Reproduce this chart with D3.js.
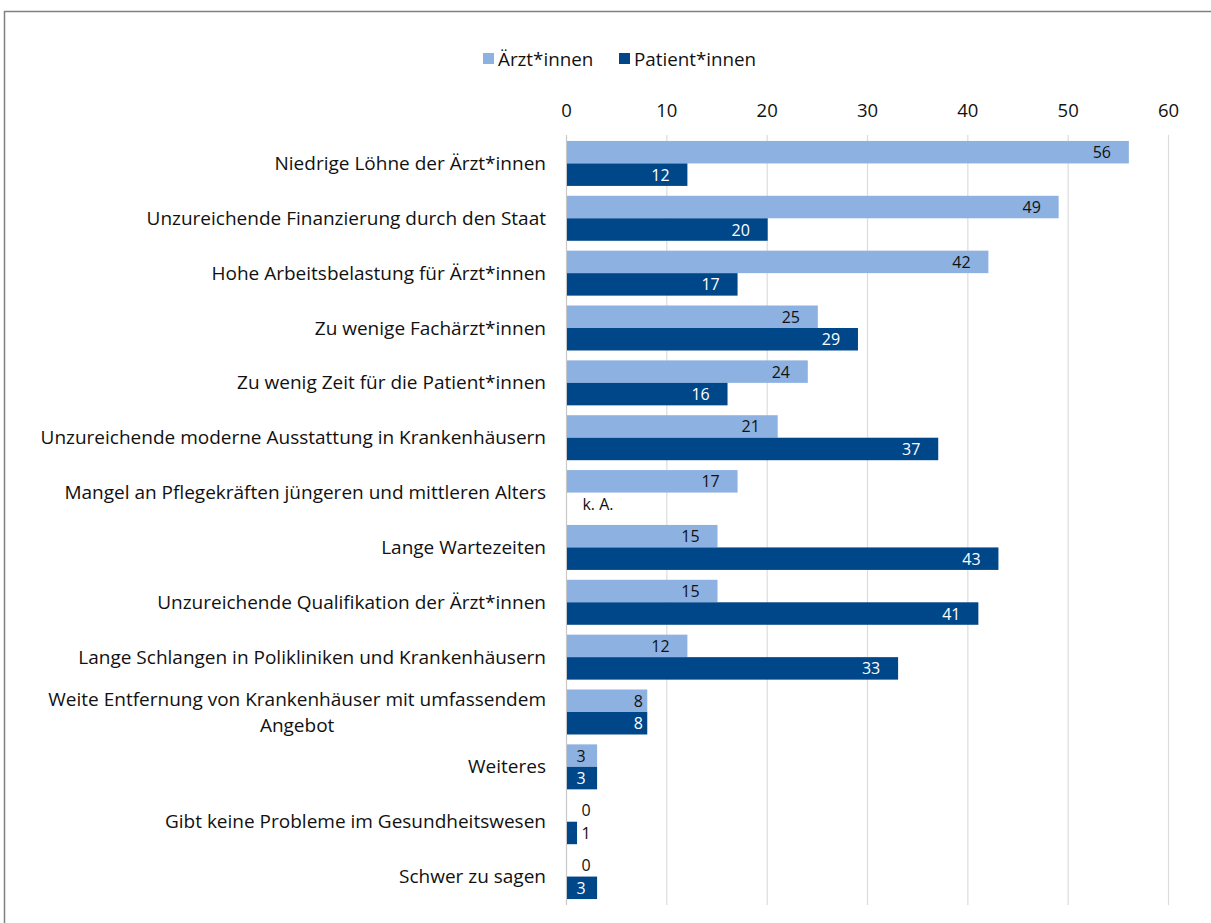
<!DOCTYPE html>
<html>
<head>
<meta charset="utf-8">
<script src="https://cdn.jsdelivr.net/npm/d3@7"></script>
<style>
  body { margin: 0; background: #fff; }
  svg text { font-family: "Open Sans", "Noto Sans", sans-serif; fill: #111; }
</style>
</head>
<body>
<svg id="chart" width="1211" height="923"></svg>
<script>
// data
var categories = [
    "Niedrige Löhne der Ärzt*innen",
    "Unzureichende Finanzierung durch den Staat",
    "Hohe Arbeitsbelastung für Ärzt*innen",
    "Zu wenige Fachärzt*innen",
    "Zu wenig Zeit für die Patient*innen",
    "Unzureichende moderne Ausstattung in Krankenhäusern",
    "Mangel an Pflegekräften jüngeren und mittleren Alters",
    "Lange Wartezeiten",
    "Unzureichende Qualifikation der Ärzt*innen",
    "Lange Schlangen in Polikliniken und Krankenhäusern",
    "Weite Entfernung von Krankenhäuser mit umfassendem|Angebot",
    "Weiteres",
    "Gibt keine Probleme im Gesundheitswesen",
    "Schwer zu sagen"
];
var aerzte    = [56, 49, 42, 25, 24, 21, 17, 15, 15, 12, 8, 3, 0, 0];
var patienten = [12, 20, 17, 29, 16, 37, null, 43, 41, 33, 8, 3, 1, 3];
var seriesNames = ["Ärzt*innen", "Patient*innen"];
var seriesColors = ["#8db1e1", "#00478a"];
var xTicks = [0, 10, 20, 30, 40, 50, 60];

window.addEventListener( "load", makeChart );
function makeChart() {
    var svg = d3.select( "#chart" );

    // frame
    svg.append( "path" ).attr( "d", "M4.5,923 V11.5 H1211" )
        .attr( "stroke", "#808080" ).attr( "stroke-width", 1.5 ).attr( "fill", "none" );

    var x = d3.scaleLinear().domain( [0, 60] ).range( [566, 1168] );
    var y = d3.scaleBand().domain( categories ).range( [136, 904] )
        .paddingInner( 0.18 ).paddingOuter( 0.09 );
    var ys = d3.scaleBand().domain( [0, 1] ).range( [0, y.bandwidth()] );

    // grid
    svg.append( "g" ).selectAll( "line" ).data( xTicks ).enter()
        .append( "line" )
        .attr( "x1", d=>x(d)+0.5 ).attr( "x2", d=>x(d)+0.5 )
        .attr( "y1", 135 ).attr( "y2", 905 )
        .attr( "stroke", d=>d==0 ? "#c8c8c8" : "#dcdcdc" ).attr( "stroke-width", 1.2 );

    // top axis labels
    var ax = svg.append( "g" ).attr( "transform", "translate(0,117)" )
        .call( d3.axisTop( x ).tickValues( xTicks ).tickSize( 0 ).tickPadding( 0 ) );
    ax.select( ".domain" ).remove();
    ax.selectAll( "text" ).attr( "font-size", 18.5 ).attr( "font-family", null );

    // legend
    var lg = svg.append( "g" );
    var legX = [483, 619];
    seriesNames.forEach( function(n, i) {
        lg.append( "rect" ).attr( "x", legX[i] ).attr( "y", 53 )
            .attr( "width", 11 ).attr( "height", 11 ).attr( "fill", seriesColors[i] );
        lg.append( "text" ).attr( "x", legX[i]+15 ).attr( "y", 65.5 )
            .attr( "font-size", 18.8 ).text( n );
    } );

    // category labels
    var cl = svg.append( "g" ).selectAll( "text" ).data( categories ).enter()
        .append( "text" )
        .attr( "text-anchor", "middle" ).attr( "font-size", 19 )
        .attr( "transform", d=>"translate(0," + (y(d)+y.bandwidth()/2) + ")" );
    cl.each( function(d) {
        var lines = d.split( "|" );
        var t = d3.select( this );
        var tmp = t.append( "tspan" ).text( lines[0] );
        var w = tmp.node().getComputedTextLength();
        tmp.remove();
        var right = 546;
        lines.forEach( function(s, i) {
            t.append( "tspan" )
                .attr( "x", lines.length > 1 ? right - w/2 : right )
                .attr( "text-anchor", lines.length > 1 ? "middle" : "end" )
                .attr( "y", (i - (lines.length-1)/2) * 26 + 6.5 )
                .text( s );
        } );
    } );

    // bars
    var all = [aerzte, patienten];
    all.forEach( function(vals, s) {
        var g = svg.append( "g" );
        var rows = categories.map( (c, i) => ({ c: c, v: vals[i] }) );
        g.selectAll( "rect" ).data( rows.filter( d=>d.v != null && d.v > 0 ) ).enter()
            .append( "rect" )
            .attr( "x", x(0)+1 ).attr( "y", d=>y(d.c)+ys(s) )
            .attr( "width", d=>x(d.v)-x(0) ).attr( "height", ys.bandwidth() )
            .attr( "fill", seriesColors[s] );

        g.selectAll( "text" ).data( rows ).enter()
            .append( "text" )
            .attr( "font-size", 16 ).attr( "text-anchor", "middle" )
            .attr( "y", d=>y(d.c)+ys(s)+ys.bandwidth()/2+6 )
            .each( function(d) {
                var t = d3.select( this );
                var w = d.v == null ? 0 : x(d.v)-x(0);
                if ( d.v == null ) {
                    t.attr( "x", x(0)+32 ).text( "k. A." );
                } else if ( d.v >= 10 ) {
                    t.attr( "x", x(d.v)-26 )
                        .style( "fill", s == 1 ? "#fff" : "#111" ).text( d.v );
                } else if ( d.v >= 2 ) {
                    t.attr( "x", w > 40 ? x(d.v)-8 : (x(0)+x(d.v))/2 )
                        .style( "fill", s == 1 ? "#fff" : "#111" ).text( d.v );
                } else {
                    t.attr( "x", x(0)+20 ).text( d.v );
                }
            } );
    } );
}
</script>
</body>
</html>
